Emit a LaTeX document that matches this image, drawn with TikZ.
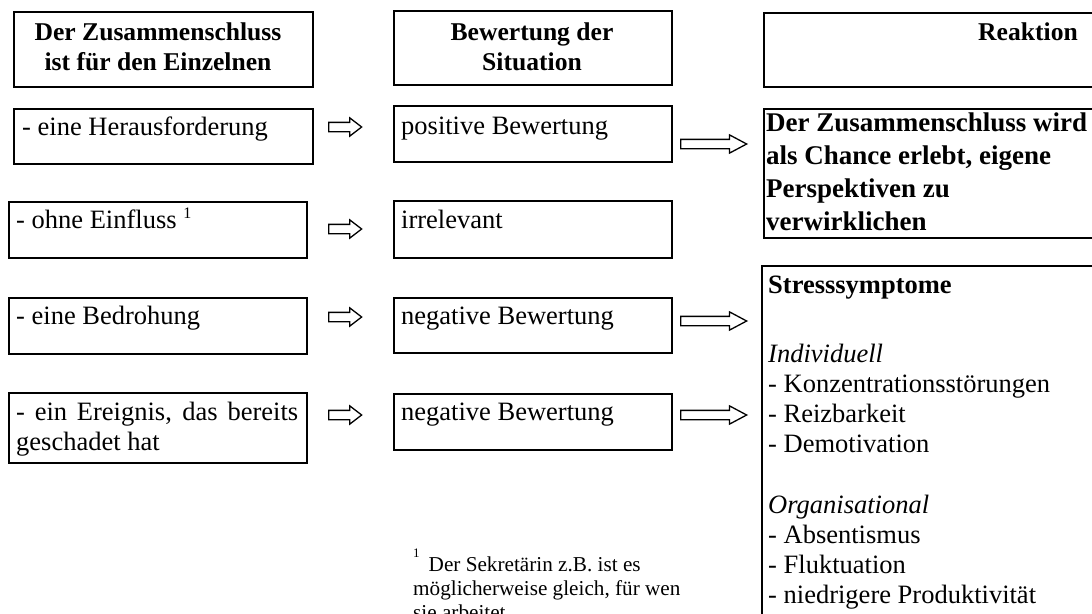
\documentclass[tikz,border=0pt]{standalone}
\usepackage{fontspec}
\setmainfont{Liberation Serif}
\usetikzlibrary{shapes.arrows}
\begin{document}
\begin{tikzpicture}[x=1pt,y=-1pt,
  box/.style={draw, line width=1.8pt, inner sep=0pt, anchor=north west},
  txt/.style={inner sep=0pt, anchor=base west, font=\fontsize{26.5}{30.5}\selectfont},
  itxt/.style={txt, font=\fontsize{26.5}{30.5}\selectfont\itshape},
  btxt/.style={txt, font=\fontsize{27}{33}\selectfont\bfseries},
  head/.style={inner sep=0pt, anchor=base, font=\fontsize{25.6}{30}\selectfont\bfseries},
  fn/.style={inner sep=0pt, anchor=base west, font=\fontsize{21.2}{24}\selectfont},
  arrowbase/.style={single arrow, draw, line width=1.3pt, inner sep=0pt, inner ysep=4pt,
    single arrow head extend=4.5pt, anchor=tail},
  smallarr/.style={arrowbase, single arrow tip angle=75, minimum height=33pt},
  bigarr/.style={arrowbase, single arrow tip angle=56, minimum height=66pt}
]
\useasboundingbox (0,0) rectangle (1092,613);
\fill[white] (0,0) rectangle (1092,613);
\clip (0,0) rectangle (1092,613);

% header boxes
\node[box, minimum width=299pt, minimum height=75pt] (h1) at (13,11) {};
\node[box, minimum width=278pt, minimum height=74pt] (h2) at (393,10) {};
\node[box, minimum width=420pt, minimum height=74pt] (h3) at (763,12) {};
\node[head] (h1a) at (158,40) {Der Zusammenschluss};
\node[head] (h1b) at (158,70) {ist für den Einzelnen};
\node[head] (h2a) at (532,40) {Bewertung der};
\node[head] (h2b) at (532,70) {Situation};
\node[head] (h3a) at (1028,40) {Reaktion};

% left column
\node[box, minimum width=299pt, minimum height=55pt] (l1) at (13,108) {};
\node[box, minimum width=298pt, minimum height=56pt] (l2) at (8,201) {};
\node[box, minimum width=298pt, minimum height=56pt] (l3) at (8,297) {};
\node[box, minimum width=298pt, minimum height=70pt] (l4) at (8,392) {};
\node[txt] (t1) at ([shift={(9,27)}]l1.north west) {- eine Herausforderung};
\node[txt] (t2) at ([shift={(8,27)}]l2.north west) {- ohne Einfluss \raisebox{10pt}{\fontsize{16}{16}\selectfont 1}};
\node[txt] (t3) at ([shift={(8,27)}]l3.north west) {- eine Bedrohung};
\node[txt] (t4a) at ([shift={(8,28)}]l4.north west) {\makebox[282pt][s]{- ein Ereignis, das bereits}};
\node[txt] (t4b) at ([shift={(8,58)}]l4.north west) {geschadet hat};

% middle column
\node[box, minimum width=278pt, minimum height=56pt] (m1) at (393,105) {};
\node[box, minimum width=278pt, minimum height=57pt] (m2) at (393,200) {};
\node[box, minimum width=278pt, minimum height=55pt] (m3) at (393,297) {};
\node[box, minimum width=278pt, minimum height=56pt] (m4) at (393,393) {};
\node[txt] (s1) at ([shift={(8,29)}]m1.north west) {positive Bewertung};
\node[txt] (s2) at ([shift={(8,28)}]m2.north west) {irrelevant};
\node[txt] (s3) at ([shift={(8,27)}]m3.north west) {negative Bewertung};
\node[txt] (s4) at ([shift={(8,27)}]m4.north west) {negative Bewertung};

% right column
\node[box, minimum width=420pt, minimum height=129pt] (r1) at (763,108) {};
\node[box, minimum width=420pt, minimum height=420pt] (r2) at (761,265) {};
\node[btxt] (c1) at (766,131) {Der Zusammenschluss wird};
\node[btxt] (c2) at (766,164) {als Chance erlebt, eigene};
\node[btxt] (c3) at (766,197) {Perspektiven zu};
\node[btxt] (c4) at (766,230) {verwirklichen};

\node[txt, font=\fontsize{26.5}{30.5}\selectfont\bfseries] (st) at (768,293) {Stresssymptome};
\node[itxt] (st1) at (768,362) {Individuell};
\node[txt] (st2) at (768,392) {- Konzentrationsstörungen};
\node[txt] (st3) at (768,422) {- Reizbarkeit};
\node[txt] (st4) at (768,452) {- Demotivation};
\node[itxt] (st5) at (768,513) {Organisational};
\node[txt] (st6) at (768,543) {- Absentismus};
\node[txt] (st7) at (768,573) {- Fluktuation};
\node[txt] (st8) at (768,603) {- niedrigere Produktivität};

% arrows
\node[smallarr] (a1) at (328,127) {};
\node[smallarr] (a2) at (328,229) {};
\node[smallarr] (a3) at (328,317) {};
\node[smallarr] (a4) at (328,415) {};
\node[bigarr] (b1) at (680,144) {};
\node[bigarr] (b3) at (680,321) {};
\node[bigarr] (b4) at (680,415) {};

% footnote
\node[fn] (f1) at (413,571) {\raisebox{14pt}{\fontsize{13}{13}\selectfont 1}\hspace{9pt}Der Sekretärin z.B. ist es};
\node[fn] (f2) at (413,595) {möglicherweise gleich, für wen};
\node[fn] (f3) at (413,619) {sie arbeitet.};
\end{tikzpicture}
\end{document}
